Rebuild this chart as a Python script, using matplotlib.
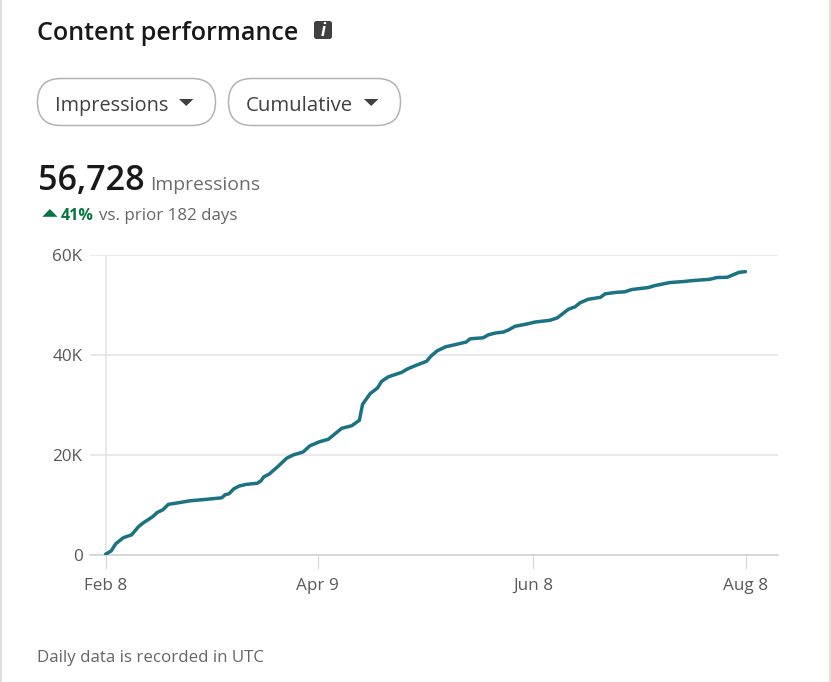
import matplotlib
matplotlib.use("Agg")
import matplotlib.pyplot as plt
from matplotlib.patches import FancyBboxPatch, Polygon

plt.rcParams['font.family'] = ['Open Sans', 'Noto Sans', 'DejaVu Sans']

days = [0,1.6,2.9,5.0,7.4,9.3,10.7,13.3,14.6,16.2,17.8,19.7,23.9,28.6,32.9,33.8,34.9,36.3,37.8,39.9,
        42.9,43.9,44.8,46.3,48.9,51.2,53.1,55.9,57.8,60.5,63,66.8,69.6,71.8,72.7,74.8,76.9,78.1,80,83.8,
        85.2,87.5,90.8,92,93.8,96.2,99.3,102,103.1,106.8,108.3,110.2,112.5,113.9,115.8,119.1,121.5,125.7,127.8,130.9,
        132.8,134.2,136.5,140,141.3,144.6,146.9,148.8,153.5,155.4,159.6,163.4,166.2,170.9,172.9,175.8,179.2,181]
impressions = [200,870,2300,3500,4100,5700,6500,7700,8550,9100,10200,10400,10900,11200,11500,12100,12300,13300,13850,14200,
        14400,14850,15700,16250,17850,19400,20070,20670,21900,22700,23200,25400,25900,27000,30200,32300,33450,34800,35700,36600,
        37200,37900,38800,39800,40900,41700,42200,42650,43300,43500,44100,44450,44650,45050,45800,46250,46650,47000,47500,49200,
        49700,50500,51200,51600,52300,52600,52700,53150,53550,53950,54550,54750,54950,55200,55550,55600,56600,56728]
y_ticks = [0, 20000, 40000, 60000]
y_labels = ['0', '20K', '40K', '60K']
x_ticks = [0, 60, 121, 181]
x_labels = ['Feb 8', 'Apr 9', 'Jun 8', 'Aug 8']

W, H = 831, 682
fig = plt.figure(figsize=(W/100, H/100), dpi=100, facecolor='white')

# overlay in pixel coordinates for page furniture
bg = fig.add_axes([0, 0, 1, 1])
bg.set_xlim(0, W); bg.set_ylim(H, 0); bg.axis('off')
bg.axvline(0.8, color='#dfdeda', lw=1.6)
bg.axvline(829.5, color='#dfdeda', lw=1.2)

def pill(x0, x1, y0, y1):
    r = (y1 - y0) / 2
    bg.add_patch(FancyBboxPatch((x0 + r, y0 + r), x1 - x0 - 2*r, 0,
                 boxstyle=f"round,pad={r},rounding_size={r}", fc='white', ec='#b3b3b3', lw=1.1))

pill(37.5, 215.5, 78.5, 125.5)
pill(228.5, 400.5, 78.5, 125.5)
bg.add_patch(Polygon([(179, 99), (193.5, 99), (186.2, 106)], fc='#404040', ec='none'))
bg.add_patch(Polygon([(364, 99), (378.5, 99), (371.2, 106)], fc='#404040', ec='none'))
bg.add_patch(Polygon([(42.3, 216.8), (57.5, 216.8), (49.9, 209)], fc='#057642', ec='none'))
bg.add_patch(FancyBboxPatch((316, 23), 14, 14, boxstyle="round,pad=2,rounding_size=2.5", fc='#404040', ec='none'))
bg.text(323, 30.5, 'i', color='white', fontsize=12, fontweight='bold', style='italic', ha='center', va='center')

bg.text(37, 40, 'Content performance', fontsize=18.1, fontweight=600, color='#191919', va='baseline')
bg.text(55, 111, 'Impressions', fontsize=14.3, fontweight=500, color='#404040', va='baseline')
bg.text(246, 111, 'Cumulative', fontsize=14.7, fontweight=500, color='#404040', va='baseline')
bg.text(37.5, 190, '56,728', fontsize=24.6, fontweight=600, color='#191919', va='baseline')
bg.text(150.5, 190, 'Impressions', fontsize=13.95, color='#6b6b6b', va='baseline')
bg.text(61, 220, '41%', fontsize=11.5, fontweight='bold', color='#057642', va='baseline')
bg.text(99, 220, 'vs. prior 182 days', fontsize=12.2, color='#666666', va='baseline')
bg.text(37, 662, 'Daily data is recorded in UTC', fontsize=12.2, color='#666666', va='baseline')

# chart area
L, R, T, B = 89.5, 778, 255.3, 555.3
ax = fig.add_axes([L/W, 1 - B/H, (R-L)/W, (B-T)/H])
ax.patch.set_alpha(0)
ax.set_xlim((L-105.5)/3.536, (R-105.5)/3.536)
ax.set_ylim(0, 60000)
for s in ax.spines.values():
    s.set_visible(False)
ax.set_yticks(y_ticks, y_labels)
ax.set_xticks(x_ticks, x_labels)
ax.tick_params(axis='y', length=0, pad=5, labelsize=12.3, labelcolor='#595959')
ax.tick_params(axis='x', length=10, width=0.9, color='#d9d9d9', pad=6.5, labelsize=12.3, labelcolor='#595959')
ax.grid(axis='y', color='#e3e3e3', lw=1.1)
ax.set_axisbelow(True)
ax.axhline(0, color='#cfcfcf', lw=1.1, zorder=1, clip_on=False)
ax.axvline(0, color='#e3e3e3', lw=1.1, zorder=1)
ax.plot(days, impressions, color='#1a7282', lw=2.5, solid_joinstyle='round', solid_capstyle='round', zorder=3)

fig.savefig('out.png', dpi=100)
